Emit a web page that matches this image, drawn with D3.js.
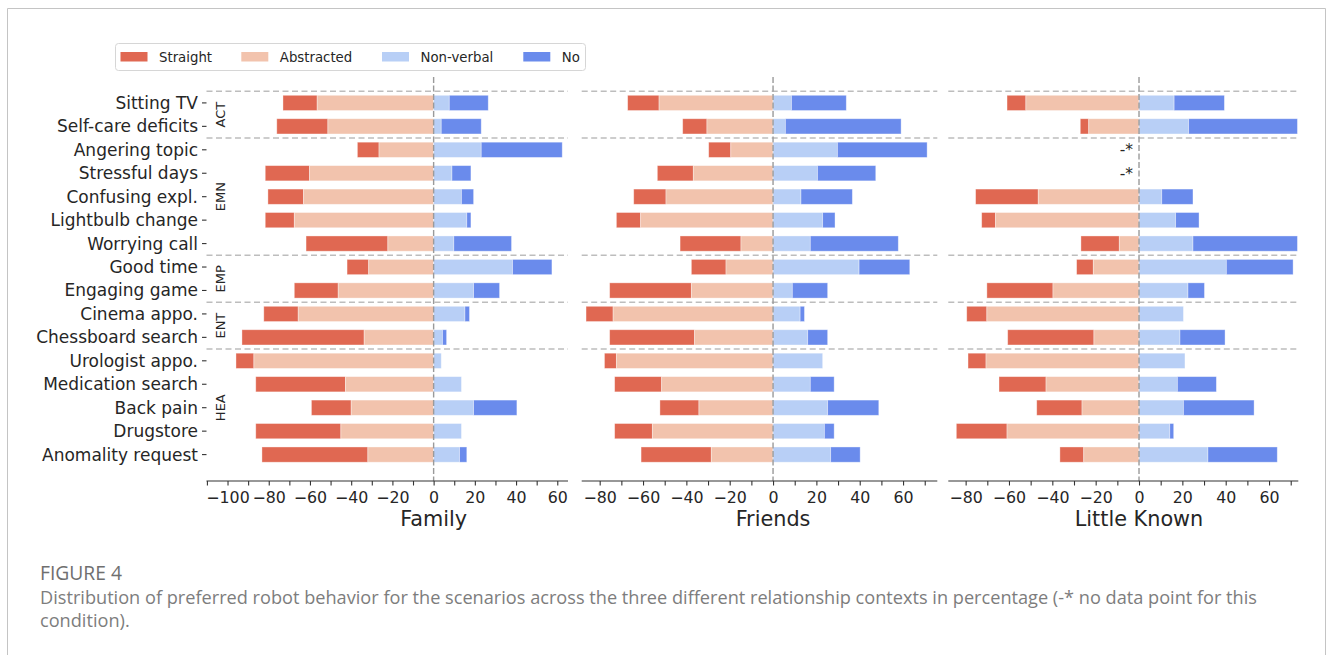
<!DOCTYPE html>
<html>
<head>
<meta charset="utf-8">
<script src="https://cdn.jsdelivr.net/npm/d3@7"></script>
<style>
  html, body { margin: 0; padding: 0; background: #fff; }
  svg { display: block; }
  text { font-family: "DejaVu Sans", sans-serif; fill: #262626; }
</style>
</head>
<body>
<svg id="chart" width="1334" height="655"></svg>
<script>
// ---------------- DATA ----------------
const categories = ["Sitting TV", "Self-care deficits", "Angering topic", "Stressful days",
  "Confusing expl.", "Lightbulb change", "Worrying call", "Good time", "Engaging game",
  "Cinema appo.", "Chessboard search", "Urologist appo.", "Medication search",
  "Back pain", "Drugstore", "Anomality request"];
const groupNames = ["ACT", "EMN", "EMP", "ENT", "HEA"];
const groupOf = ["ACT", "ACT", "EMN", "EMN", "EMN", "EMN", "EMN", "EMP", "EMP",
  "ENT", "ENT", "HEA", "HEA", "HEA", "HEA", "HEA"];
const seriesNames = ["Straight", "Abstracted", "Non-verbal", "No"];
const contexts = ["Family", "Friends", "Little Known"];

const familyStraight   = [16.6, 24.8, 10.5, 21.5, 17.3, 14.1, 39.7, 10.5, 21.3, 16.7, 59.3, 8.7, 43.5, 19.3, 41.3, 51.4];
const familyAbstracted = [56.5, 51.3, 26.5, 60.2, 63.1, 67.6, 22.2, 31.5, 46.3, 65.7, 33.7, 87.2, 42.8, 40.0, 45.0, 31.9];
const familyNonverbal  = [7.6, 3.7, 23.1, 8.9, 13.5, 16.1, 9.8, 38.3, 19.4, 15.2, 4.3, 3.7, 13.5, 19.4, 13.5, 12.6];
const familyNo         = [18.9, 19.4, 39.3, 9.2, 5.9, 2.0, 28.0, 19.1, 12.6, 2.2, 2.0, 0, 0, 21.0, 0, 3.5];

const friendsStraight   = [14.5, 11.2, 10.2, 16.6, 14.9, 11.2, 28.1, 16.0, 37.7, 12.5, 39.2, 5.5, 21.7, 18.0, 17.4, 32.4];
const friendsAbstracted = [52.6, 30.5, 19.5, 36.8, 49.4, 61.1, 14.8, 21.7, 37.7, 73.8, 36.2, 72.3, 51.4, 34.2, 55.7, 28.5];
const friendsNonverbal  = [8.5, 5.7, 29.7, 20.5, 12.9, 22.9, 17.2, 39.7, 8.9, 12.5, 16.0, 22.9, 17.2, 25.2, 23.7, 26.6];
const friendsNo         = [25.3, 53.4, 41.4, 26.9, 23.7, 5.7, 40.6, 23.4, 16.3, 2.0, 9.2, 0, 11.0, 23.6, 4.5, 13.6];

const littleStraight   = [8.7, 3.9, null, null, 28.9, 6.4, 17.7, 7.7, 30.5, 9.3, 39.8, 8.3, 21.7, 20.9, 23.4, 11.0];
const littleAbstracted = [52.2, 23.2, null, null, 46.5, 66.2, 9.1, 21.1, 39.7, 70.2, 20.8, 70.6, 42.9, 26.3, 60.9, 25.5];
const littleNonverbal  = [16.2, 22.9, null, null, 10.5, 16.9, 24.9, 40.3, 22.6, 20.5, 18.9, 21.2, 17.7, 20.5, 14.2, 31.8];
const littleNo         = [23.2, 50.2, null, null, 14.4, 10.8, 48.2, 30.8, 7.6, 0, 20.8, 0, 18.0, 32.6, 1.8, 32.0];

const noDataMark = "-*";
const captionTitle = "FIGURE 4";
const captionLines = [
  "Distribution of preferred robot behavior for the scenarios across the three different relationship contexts in percentage (-* no data point for this",
  "condition)."
];

// ---------------- STYLE / LAYOUT ----------------
const colors = { "Straight": "#e06852", "Abstracted": "#f2c3ad", "Non-verbal": "#b8cff6", "No": "#6a8bec" };
const panels = [
  { name: contexts[0], range: [206.5, 568], domain: [-110.2, 65.2], ticks: d3.range(-110, 61, 10),
    S: familyStraight, A: familyAbstracted, N: familyNonverbal, O: familyNo },
  { name: contexts[1], range: [581.7, 937.3], domain: [-88.3, 75.8], ticks: d3.range(-80, 71, 10),
    S: friendsStraight, A: friendsAbstracted, N: friendsNonverbal, O: friendsNo },
  { name: contexts[2], range: [948.3, 1298.3], domain: [-88.0, 73.5], ticks: d3.range(-80, 71, 10),
    S: littleStraight, A: littleAbstracted, N: littleNonverbal, O: littleNo }
];

const svg = d3.select("#chart");
svg.append("rect").attr("x", 0).attr("y", 0).attr("width", 1334).attr("height", 655).attr("fill", "#fff");
// card frame
svg.append("path").attr("d", "M7.5,660 V8.5 H1325.5 V660").attr("fill", "none")
  .attr("stroke", "#c4c4c4").attr("stroke-width", 1);

const nRows = categories.length;
const y = d3.scaleLinear().domain([-1.105, nRows - 1 + 1.105]).range([77, 480.5]);
const barH = Math.abs(y(0.65) - y(0));
const axisY = 481;

// group separators (between groups)
const sepIdx = [-0.5];
for (let i = 1; i < nRows; i++) if (groupOf[i] !== groupOf[i - 1]) sepIdx.push(i - 0.5);

panels.forEach((p, pi) => {
  const x = d3.scaleLinear().domain(p.domain).range(p.range);
  const g = svg.append("g");

  // horizontal dashed group lines
  g.selectAll("line.sep").data(sepIdx).join("line")
    .attr("x1", p.range[0]).attr("x2", p.range[1])
    .attr("y1", d => y(d)).attr("y2", d => y(d))
    .attr("stroke", "#bdbdbd").attr("stroke-width", 1.5).attr("stroke-dasharray", "6,3.5");

  // bars
  const rows = categories.map((c, i) => ({ i, S: p.S[i], A: p.A[i], N: p.N[i], O: p.O[i] }));
  const segs = [];
  rows.forEach(r => {
    if (r.S == null) return;
    segs.push({ i: r.i, k: "Straight", x0: -(r.S + r.A), x1: -r.A });
    segs.push({ i: r.i, k: "Abstracted", x0: -r.A, x1: 0 });
    segs.push({ i: r.i, k: "Non-verbal", x0: 0, x1: r.N });
    if (r.O > 0) segs.push({ i: r.i, k: "No", x0: r.N, x1: r.N + r.O });
  });
  g.selectAll("rect.bar").data(segs).join("rect")
    .attr("x", d => x(d.x0)).attr("width", d => x(d.x1) - x(d.x0))
    .attr("y", d => y(d.i) - barH / 2).attr("height", barH)
    .attr("fill", d => colors[d.k])
    .attr("stroke", "#ffffff").attr("stroke-opacity", 0.45).attr("stroke-width", 0.8);

  // no-data marks
  g.selectAll("text.nd").data(rows.filter(r => r.S == null)).join("text")
    .attr("x", x(0) - 6).attr("y", d => y(d.i)).attr("dy", "0.35em")
    .attr("text-anchor", "end").attr("font-size", 15.5).text(noDataMark);

  // zero line
  g.append("line").attr("x1", x(0)).attr("x2", x(0)).attr("y1", 77).attr("y2", axisY)
    .attr("stroke", "#9a9a9a").attr("stroke-width", 1.4).attr("stroke-dasharray", "6,2.5");

  // bottom axis
  const ax = d3.axisBottom(x).tickValues(p.ticks).tickSize(4.5).tickPadding(6)
    .tickFormat(d => (d % 20 === 0 ? d3.format("d")(d) : ""));
  const axG = g.append("g").attr("transform", `translate(0,${axisY})`).call(ax);
  axG.select(".domain").attr("stroke", "#333").attr("stroke-width", 1.2)
    .attr("d", `M${p.range[0]},0H${p.range[1]}`);
  axG.selectAll(".tick line").attr("stroke", "#333").attr("stroke-width", 1.1);
  axG.selectAll(".tick text").attr("font-size", 15.8).attr("fill", "#262626")
    .attr("font-family", "DejaVu Sans");

  // panel label
  g.append("text").attr("x", x(0)).attr("y", 526).attr("text-anchor", "middle")
    .attr("font-size", 20.8).text(p.name);

  if (pi === 0) {
    // category labels + tick marks
    const yl = g.append("g");
    yl.selectAll("text").data(categories).join("text")
      .attr("x", 198).attr("y", (d, i) => y(i)).attr("dy", "0.35em")
      .attr("text-anchor", "end").attr("font-size", 17).text(d => d);
    yl.selectAll("line").data(categories).join("line")
      .attr("x1", 202).attr("x2", 206.5).attr("y1", (d, i) => y(i)).attr("y2", (d, i) => y(i))
      .attr("stroke", "#333").attr("stroke-width", 1.1);
    // group labels
    groupNames.forEach(gn => {
      const idx = groupOf.map((v, i) => v === gn ? i : -1).filter(i => i >= 0);
      const cy = y(d3.mean(idx));
      g.append("text").attr("transform", `translate(220,${cy}) rotate(-90)`)
        .attr("text-anchor", "middle").attr("dy", "0.35em").attr("font-size", 13).text(gn);
    });
  }
});

// legend
const lg = svg.append("g");
lg.append("rect").attr("x", 115.5).attr("y", 43.5).attr("width", 470).attr("height", 27)
  .attr("rx", 3).attr("fill", "#fff").attr("stroke", "#d6d6d6").attr("stroke-width", 1);
const legX = [120.5, 241.3, 382, 523.3];
seriesNames.forEach((s, i) => {
  lg.append("rect").attr("x", legX[i]).attr("y", 52).attr("width", 27).attr("height", 9.5).attr("fill", colors[s]);
  lg.append("text").attr("x", legX[i] + 38.5).attr("y", 61.5).attr("font-size", 13.3).text(s);
});

// caption
const cap = svg.append("g").attr("font-family", "'Open Sans', sans-serif");
const t0 = cap.append("text").attr("x", 40).attr("y", 580).attr("font-size", 16)
  .style("font-family", "'Open Sans', sans-serif").style("fill", "#6f6f6f").text(captionTitle);
const t1 = cap.append("text").attr("x", 40).attr("y", 604).attr("font-size", 16)
  .style("font-family", "'Open Sans', sans-serif").style("fill", "#7d7d7d").text(captionLines[0]);
const w1 = t1.node().getComputedTextLength();
const fs = 16 * 1218 / w1;
t1.attr("font-size", fs);
cap.append("text").attr("x", 40).attr("y", 627).attr("font-size", fs)
  .style("font-family", "'Open Sans', sans-serif").style("fill", "#7d7d7d").text(captionLines[1]);
const w0 = t0.node().getComputedTextLength();
t0.attr("font-size", 16 * 82 / w0);
</script>
</body>
</html>
